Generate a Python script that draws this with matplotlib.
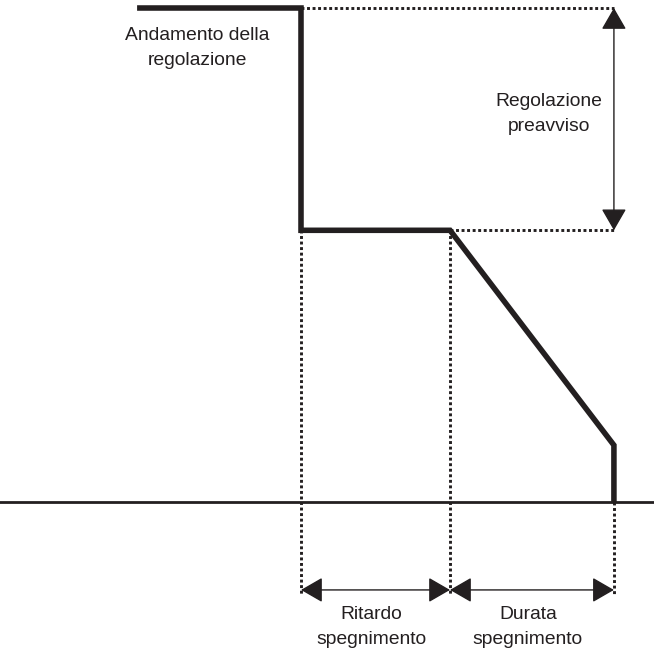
import matplotlib
matplotlib.use("Agg")
import matplotlib.pyplot as plt
from matplotlib.patches import ArrowStyle

# tempi (unita' arbitrarie) e livelli della regolazione
t_inizio = -1.1
t_preavviso = 0.0
t_ritardo = 1.0
t_spento = 2.1
livello_max = 1.0
livello_preavviso = 0.55
livello_fine = 0.115

tempi = [t_inizio, t_preavviso, t_preavviso, t_ritardo, t_spento, t_spento]
livelli = [livello_max, livello_max, livello_preavviso, livello_preavviso, livello_fine, 0.0]

quota_frecce = -0.178
quota_fondo = -0.188

testo_andamento = "Andamento della\nregolazione"
testo_preavviso = "Regolazione\npreavviso"
testo_ritardo = "Ritardo\nspegnimento"
testo_durata = "Durata\nspegnimento"

nero = "#231f20"
plt.rcParams['font.family'] = ['Liberation Sans', 'DejaVu Sans']

fig = plt.figure(figsize=(6.54, 6.54), dpi=100)
ax = fig.add_axes([0, 0, 1, 1])
ax.set_xlim(-2.020, 2.369)
ax.set_ylim(-0.3077, 1.0162)
ax.axis("off")

# linee tratteggiate di riferimento
punti = dict(color=nero, lw=2.1, linestyle=(0, (1, 0.9)), dash_capstyle="butt")
ax.plot([t_preavviso, t_spento], [livello_max, livello_max], **punti)
ax.plot([t_ritardo, t_spento], [livello_preavviso, livello_preavviso], **punti)
ax.plot([t_preavviso, t_preavviso], [livello_preavviso, quota_fondo], **punti)
ax.plot([t_ritardo, t_ritardo], [livello_preavviso, quota_fondo], **punti)
ax.plot([t_spento, t_spento], [0, quota_fondo], **punti)

# asse dei tempi
ax.axhline(0, color=nero, lw=2.0)

# andamento della regolazione
ax.plot(tempi, livelli, color=nero, lw=4.0, solid_joinstyle="miter",
        solid_capstyle="butt")

# frecce
stile = ArrowStyle("<|-|>", head_length=13.5, head_width=7.8)
freccia = dict(arrowstyle=stile, mutation_scale=1, lw=1.0, color=nero,
               shrinkA=0, shrinkB=0)
ax.annotate("", xy=(t_spento, livello_max), xytext=(t_spento, livello_preavviso),
            arrowprops=freccia)
ax.annotate("", xy=(t_preavviso, quota_frecce), xytext=(t_ritardo, quota_frecce),
            arrowprops=freccia)
ax.annotate("", xy=(t_ritardo, quota_frecce), xytext=(t_spento, quota_frecce),
            arrowprops=freccia)

# testi
font = dict(fontsize=13.9, color=nero, ha="center", va="center", linespacing=1.62)
ax.annotate(testo_andamento, xy=(t_preavviso, livello_max), xytext=(-104, -40),
            textcoords="offset pixels", **font)
ax.annotate(testo_preavviso, xy=(t_spento, (livello_max + livello_preavviso) / 2),
            xytext=(-65, 5), textcoords="offset pixels", **font)
ax.annotate(testo_ritardo, xy=((t_preavviso + t_ritardo) / 2, quota_frecce),
            xytext=(-4, -37), textcoords="offset pixels", **font)
ax.annotate(testo_durata, xy=((t_ritardo + t_spento) / 2, quota_frecce),
            xytext=(-4, -37), textcoords="offset pixels", **font)

fig.savefig("out.png", dpi=100)
